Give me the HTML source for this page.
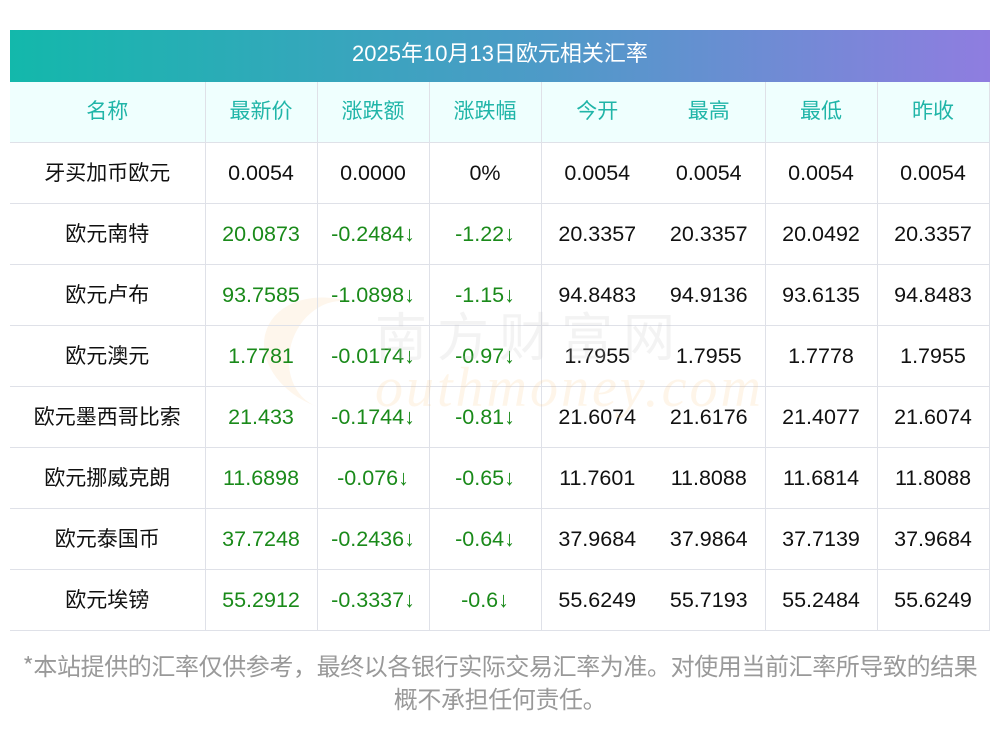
<!DOCTYPE html>
<html><head><meta charset="utf-8"><style>
body{margin:0;width:1000px;height:733px;background:#fff;font-family:"Liberation Sans","Noto Sans CJK SC",sans-serif;position:relative;overflow:hidden}
.title{position:absolute;left:10px;top:30px;width:980px;height:52px;background:linear-gradient(90deg,#13b8ab,#4e9ac8 55%,#8f7de0);color:#fff;font-size:22px;line-height:48px;text-align:center}
table{position:absolute;left:10px;top:82px;width:979px;border-collapse:collapse;table-layout:fixed}
td{height:60px;border-bottom:1px solid #dfe1e8;border-right:1px solid #dfe1e8;text-align:center;font-size:21.5px;color:#111;padding:0;line-height:26px}
td.c{font-family:"Noto Sans CJK SC",sans-serif;font-size:21px;height:58px;padding-bottom:2px}
tr.h td{background:#effffe;color:#20b5a8;font-family:"Noto Sans CJK SC",sans-serif;font-size:21px;height:56px;padding-bottom:4px}
td.nb{border-right:none}
.g{color:#1a8a1a}
.wm{position:absolute;left:375px;top:356px;font-size:56px;color:rgba(250,190,120,0.16);font-style:italic;font-family:"Liberation Serif",serif;letter-spacing:3px}
.wm2{position:absolute;left:375px;top:296px;font-size:52px;color:rgba(200,200,200,0.22);font-family:"Noto Sans CJK SC",sans-serif;letter-spacing:10px}
.sw{position:absolute;left:262px;top:300px;width:120px;height:110px;border-radius:50%;border-left:28px solid rgba(250,190,120,0.14);transform:rotate(20deg)}
.foot{position:absolute;left:0;top:648px;width:1000px;text-align:center;color:#999;font-size:24px;line-height:33px;font-family:"Noto Sans CJK SC",sans-serif;letter-spacing:-0.4px}
</style></head><body>
<div class="title">2025年10月13日欧元相关汇率</div>
<div class="sw"></div>
<table>
<colgroup><col style="width:195px"><col style="width:112px"><col style="width:112px"><col style="width:112px"><col style="width:112px"><col style="width:112px"><col style="width:112px"><col style="width:112px"></colgroup>
<tr class="h"><td>名称</td><td>最新价</td><td>涨跌额</td><td>涨跌幅</td><td class="nb">今开</td><td>最高</td><td>最低</td><td>昨收</td></tr>
<tr><td class="c">牙买加币欧元</td><td>0.0054</td><td>0.0000</td><td>0%</td><td class="nb">0.0054</td><td>0.0054</td><td>0.0054</td><td>0.0054</td></tr>
<tr><td class="c">欧元南特</td><td class="g">20.0873</td><td class="g">-0.2484↓</td><td class="g">-1.22↓</td><td class="nb">20.3357</td><td>20.3357</td><td>20.0492</td><td>20.3357</td></tr>
<tr><td class="c">欧元卢布</td><td class="g">93.7585</td><td class="g">-1.0898↓</td><td class="g">-1.15↓</td><td class="nb">94.8483</td><td>94.9136</td><td>93.6135</td><td>94.8483</td></tr>
<tr><td class="c">欧元澳元</td><td class="g">1.7781</td><td class="g">-0.0174↓</td><td class="g">-0.97↓</td><td class="nb">1.7955</td><td>1.7955</td><td>1.7778</td><td>1.7955</td></tr>
<tr><td class="c">欧元墨西哥比索</td><td class="g">21.433</td><td class="g">-0.1744↓</td><td class="g">-0.81↓</td><td class="nb">21.6074</td><td>21.6176</td><td>21.4077</td><td>21.6074</td></tr>
<tr><td class="c">欧元挪威克朗</td><td class="g">11.6898</td><td class="g">-0.076↓</td><td class="g">-0.65↓</td><td class="nb">11.7601</td><td>11.8088</td><td>11.6814</td><td>11.8088</td></tr>
<tr><td class="c">欧元泰国币</td><td class="g">37.7248</td><td class="g">-0.2436↓</td><td class="g">-0.64↓</td><td class="nb">37.9684</td><td>37.9864</td><td>37.7139</td><td>37.9684</td></tr>
<tr><td class="c">欧元埃镑</td><td class="g">55.2912</td><td class="g">-0.3337↓</td><td class="g">-0.6↓</td><td class="nb">55.6249</td><td>55.7193</td><td>55.2484</td><td>55.6249</td></tr>
</table>
<div class="wm2">南方财富网</div>
<div class="wm">outhmoney.com</div>
<div class="foot">*本站提供的汇率仅供参考，最终以各银行实际交易汇率为准。对使用当前汇率所导致的结果<br>概不承担任何责任。</div>
</body></html>
